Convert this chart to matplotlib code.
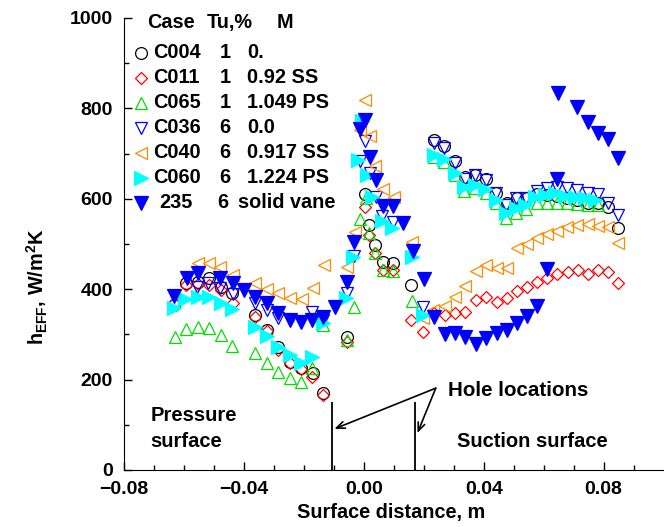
import matplotlib
matplotlib.use("Agg")
import matplotlib.pyplot as plt
from matplotlib.ticker import MultipleLocator

plt.rcParams['font.family'] = ['Liberation Sans', 'DejaVu Sans']
plt.rcParams['font.weight'] = 'bold'
plt.rcParams['mathtext.fontset'] = 'custom'
plt.rcParams['mathtext.rm'] = 'Liberation Sans:bold'
plt.rcParams['mathtext.it'] = 'Liberation Sans:bold'
plt.rcParams['mathtext.bf'] = 'Liberation Sans:bold'

# ---- data ----
c004_x = [-0.0633, -0.0593, -0.0553, -0.0517, -0.0477, -0.0440, -0.0363, -0.0323, -0.0287, -0.0247,
          -0.0210, -0.0170, -0.0137, -0.0057, 0.0003, 0.0017, 0.0037, 0.0063, 0.0097, 0.0157,
          0.0233, 0.0267, 0.0303, 0.0337, 0.0370, 0.0407, 0.0440, 0.0477, 0.0510, 0.0543,
          0.0577, 0.0610, 0.0643, 0.0677, 0.0710, 0.0747, 0.0780, 0.0813, 0.0847]
c004_y = [365, 414, 416, 425, 405, 392, 343, 310, 272, 239,
          226, 215, 170, 294, 611, 542, 498, 460, 458, 409,
          730, 717, 684, 648, 653, 644, 613, 591, 602, 602,
          611, 608, 606, 602, 597, 591, 591, 582, 535]

c011_x = [-0.0633, -0.0593, -0.0553, -0.0517, -0.0477, -0.0437, -0.0363, -0.0323, -0.0287, -0.0247,
          -0.0210, -0.0173, -0.0137, -0.0057, 0.0003, 0.0017, 0.0037, 0.0063, 0.0097, 0.0157,
          0.0197, 0.0233, 0.0270, 0.0303, 0.0337, 0.0373, 0.0407, 0.0443, 0.0477, 0.0510,
          0.0543, 0.0577, 0.0610, 0.0643, 0.0680, 0.0713, 0.0747, 0.0780, 0.0813, 0.0847]
c011_y = [369, 409, 412, 409, 398, 369, 338, 308, 265, 237,
          223, 206, 166, 283, 582, 520, 480, 442, 442, 332,
          305, 347, 343, 347, 350, 376, 383, 372, 381, 396,
          405, 416, 425, 434, 438, 442, 434, 442, 438, 414]

c065_x = [-0.0630, -0.0593, -0.0553, -0.0517, -0.0477, -0.0440, -0.0363, -0.0323, -0.0287, -0.0247,
          -0.0210, -0.0173, -0.0137, -0.0057, -0.0033, -0.0013, 0.0007, 0.0017, 0.0037, 0.0063,
          0.0097, 0.0160, 0.0233, 0.0267, 0.0303, 0.0333, 0.0370, 0.0407, 0.0440, 0.0473,
          0.0507, 0.0540, 0.0577, 0.0610, 0.0643, 0.0677, 0.0710, 0.0747, 0.0780]
c065_y = [294, 312, 316, 314, 299, 274, 259, 237, 217, 204,
          195, 226, 321, 288, 361, 555, 602, 524, 480, 442,
          440, 374, 692, 681, 653, 617, 624, 613, 591, 558,
          569, 577, 591, 591, 591, 591, 588, 586, 586]

c036_x = [-0.0557, -0.0520, -0.0480, -0.0437, -0.0363, -0.0323, -0.0287, -0.0247, -0.0173, -0.0137,
          -0.0057, -0.0033, -0.0013, 0.0003, 0.0020, 0.0040, 0.0060, 0.0097, 0.0197, 0.0233,
          0.0267, 0.0303, 0.0337, 0.0370, 0.0407, 0.0440, 0.0473, 0.0507, 0.0540, 0.0577,
          0.0610, 0.0643, 0.0677, 0.0710, 0.0747, 0.0780, 0.0813, 0.0847]
c036_y = [405, 414, 403, 389, 369, 354, 336, 332, 350, 332,
          392, 473, 684, 728, 657, 604, 562, 549, 361, 723,
          712, 679, 644, 653, 642, 613, 586, 602, 602, 617,
          624, 626, 624, 619, 613, 611, 591, 564]

c040_x = [-0.0553, -0.0517, -0.0480, -0.0437, -0.0363, -0.0323, -0.0287, -0.0247, -0.0207, -0.0170,
          -0.0133, -0.0057, -0.0030, -0.0013, 0.0003, 0.0020, 0.0037, 0.0063, 0.0100, 0.0160,
          0.0197, 0.0230, 0.0270, 0.0303, 0.0337, 0.0373, 0.0407, 0.0443, 0.0477, 0.0510,
          0.0543, 0.0577, 0.0610, 0.0643, 0.0677, 0.0710, 0.0747, 0.0780, 0.0813, 0.0847]
c040_y = [458, 458, 449, 431, 414, 400, 392, 381, 378, 403,
          454, 449, 527, 752, 819, 739, 673, 622, 604, 504,
          336, 354, 363, 383, 407, 440, 454, 447, 447, 491,
          500, 513, 522, 529, 538, 542, 544, 540, 538, 502]

c060_x = [-0.0633, -0.0597, -0.0553, -0.0517, -0.0477, -0.0440, -0.0363, -0.0323, -0.0287, -0.0247,
          -0.0210, -0.0173, -0.0137, -0.0060, -0.0037, -0.0020, -0.0007, 0.0010, 0.0027, 0.0060,
          0.0093, 0.0160, 0.0197, 0.0233, 0.0267, 0.0303, 0.0333, 0.0370, 0.0403, 0.0440,
          0.0473, 0.0507, 0.0537, 0.0570, 0.0603, 0.0637, 0.0670, 0.0703, 0.0737, 0.0770]
c060_y = [358, 378, 383, 383, 369, 356, 316, 296, 272, 254,
          237, 250, 325, 381, 471, 686, 772, 653, 604, 551,
          535, 471, 343, 697, 688, 657, 626, 631, 622, 597,
          569, 580, 586, 604, 608, 613, 606, 604, 602, 597]

s235_x = [-0.0633, -0.0590, -0.0553, -0.0480, -0.0437, -0.0400, -0.0363, -0.0323, -0.0287, -0.0247,
          -0.0210, -0.0173, -0.0137, -0.0097, -0.0057, -0.0033, -0.0013, 0.0003, 0.0020, 0.0040,
          0.0063, 0.0097, 0.0130, 0.0163, 0.0200, 0.0233, 0.0270, 0.0303, 0.0337, 0.0373,
          0.0407, 0.0443, 0.0477, 0.0510, 0.0543, 0.0577, 0.0610, 0.0643, 0.0647, 0.0710,
          0.0747, 0.0780, 0.0813, 0.0847]
s235_y = [385, 425, 436, 425, 414, 398, 383, 369, 347, 332,
          327, 332, 338, 361, 416, 504, 754, 774, 692, 642,
          584, 584, 546, 485, 423, 338, 301, 303, 294, 279,
          292, 303, 310, 325, 341, 363, 445, 644, 834, 803,
          770, 746, 732, 690]

cases = ['C004', 'C011', 'C065', 'C036', 'C040', 'C060', '235']
tu_values = ['1', '1', '1', '6', '6', '6', '6']
m_labels = ['0.', '0.92 SS', '1.049 PS', '0.0', '0.917 SS', '1.224 PS', 'solid vane']
hole_x = [-0.0107, 0.0170]

series = [
    (c004_x, c004_y, dict(marker='o', ms=8.5, mfc='none', mec='black')),
    (c011_x, c011_y, dict(marker='D', ms=6.5, mfc='none', mec='#ff0000')),
    (c065_x, c065_y, dict(marker='^', ms=9, mfc='none', mec='#00e000')),
    (c036_x, c036_y, dict(marker='v', ms=9, mfc='none', mec='#0000ff')),
    (c040_x, c040_y, dict(marker='<', ms=9, mfc='none', mec='#ff8c00')),
    (c060_x, c060_y, dict(marker='>', ms=9.5, mfc='#00ffff', mec='#00ffff')),
    (s235_x, s235_y, dict(marker='v', ms=9.5, mfc='#0000ff', mec='#0000ff')),
]

FS = 14.3
fig = plt.figure(figsize=(6.64, 5.27), dpi=100)
ax = fig.add_axes([0.18675, 0.10816, 0.8117, 0.8577])

for xs, ys, st in series:
    ax.plot(xs, ys, ls='none', mew=0.9, **st)

ax.set_xlim(-0.08, 0.0998)
ax.set_ylim(0, 1000)
ax.xaxis.set_major_locator(MultipleLocator(0.04))
ax.xaxis.set_minor_locator(MultipleLocator(0.01))
ax.yaxis.set_major_locator(MultipleLocator(200))
ax.yaxis.set_minor_locator(MultipleLocator(100))
ax.xaxis.set_major_formatter(matplotlib.ticker.FuncFormatter(
    lambda v, p: f"{v:.2f}".replace('-', '\u2212') if abs(v) > 1e-9 else "0.00"))
ax.tick_params(which='major', direction='in', length=6, width=1, labelsize=14, pad=8)
ax.tick_params(which='minor', direction='in', length=3.5, width=1)
for lab in ax.get_xticklabels() + ax.get_yticklabels():
    lab.set_fontweight('bold')
ax.spines['top'].set_visible(False)
ax.spines['right'].set_visible(False)

ax.set_xlabel('Surface distance, m', fontsize=FS, fontweight='bold')
ax.xaxis.set_label_coords(0.495, -0.093)
ax.xaxis.label.set_va('center')
ax.set_ylabel('$h_{EFF}$, W/m$^{2}$K', fontsize=FS, fontweight='bold')
ax.yaxis.set_label_coords(-0.161, 0.405)
ax.yaxis.label.set_va('center')

# hole locations
ax.vlines(hole_x, 0, 150, colors='black', lw=1.3)
for hx, hy in zip(hole_x, [91, 82]):
    ax.annotate('', xy=(hx + 0.0009, hy), xytext=(0.024, 181),
                arrowprops=dict(arrowstyle='->,head_length=0.6,head_width=0.25', lw=1.2, color='black',
                                shrinkA=0, shrinkB=0))
ax.text(0.028, 175, 'Hole locations', fontsize=14.8, fontweight='bold', va='center', ha='left')
ax.text(0.031, 63, 'Suction surface', fontsize=14.5, fontweight='bold', va='center', ha='left')
ax.text(-0.0712, 121, 'Pressure', fontsize=14.5, fontweight='bold', va='center', ha='left')
ax.text(-0.0712, 62, 'surface', fontsize=14.5, fontweight='bold', va='center', ha='left')

# legend table
tr = ax.transAxes
ax.text(0.0427, 0.9896, 'Case', transform=tr, fontsize=FS, fontweight='bold', va='center')
ax.text(0.154, 0.9896, 'Tu,%', transform=tr, fontsize=FS, fontweight='bold', va='center')
ax.text(0.284, 0.9896, 'M', transform=tr, fontsize=FS, fontweight='bold', va='center')
row_y0 = 0.9232
dy = 0.0553
for i, (case, tu, m) in enumerate(zip(cases, tu_values, m_labels)):
    y = row_y0 - i * dy
    st = series[i][2]
    ax.plot([0.031], [y], transform=tr, clip_on=False, ls='none', mew=0.9, **st)
    if case == '235':
        ax.text(0.0649, y, case, transform=tr, fontsize=FS, fontweight='bold', va='center')
        ax.text(0.1735, y, tu, transform=tr, fontsize=FS, fontweight='bold', va='center')
        ax.text(0.2115, y, m, transform=tr, fontsize=FS, fontweight='bold', va='center')
    else:
        ax.text(0.0538, y, case, transform=tr, fontsize=FS, fontweight='bold', va='center')
        ax.text(0.1772, y, tu, transform=tr, fontsize=FS, fontweight='bold', va='center')
        ax.text(0.2282, y, m, transform=tr, fontsize=FS, fontweight='bold', va='center')

fig.savefig('out.png', dpi=100)
